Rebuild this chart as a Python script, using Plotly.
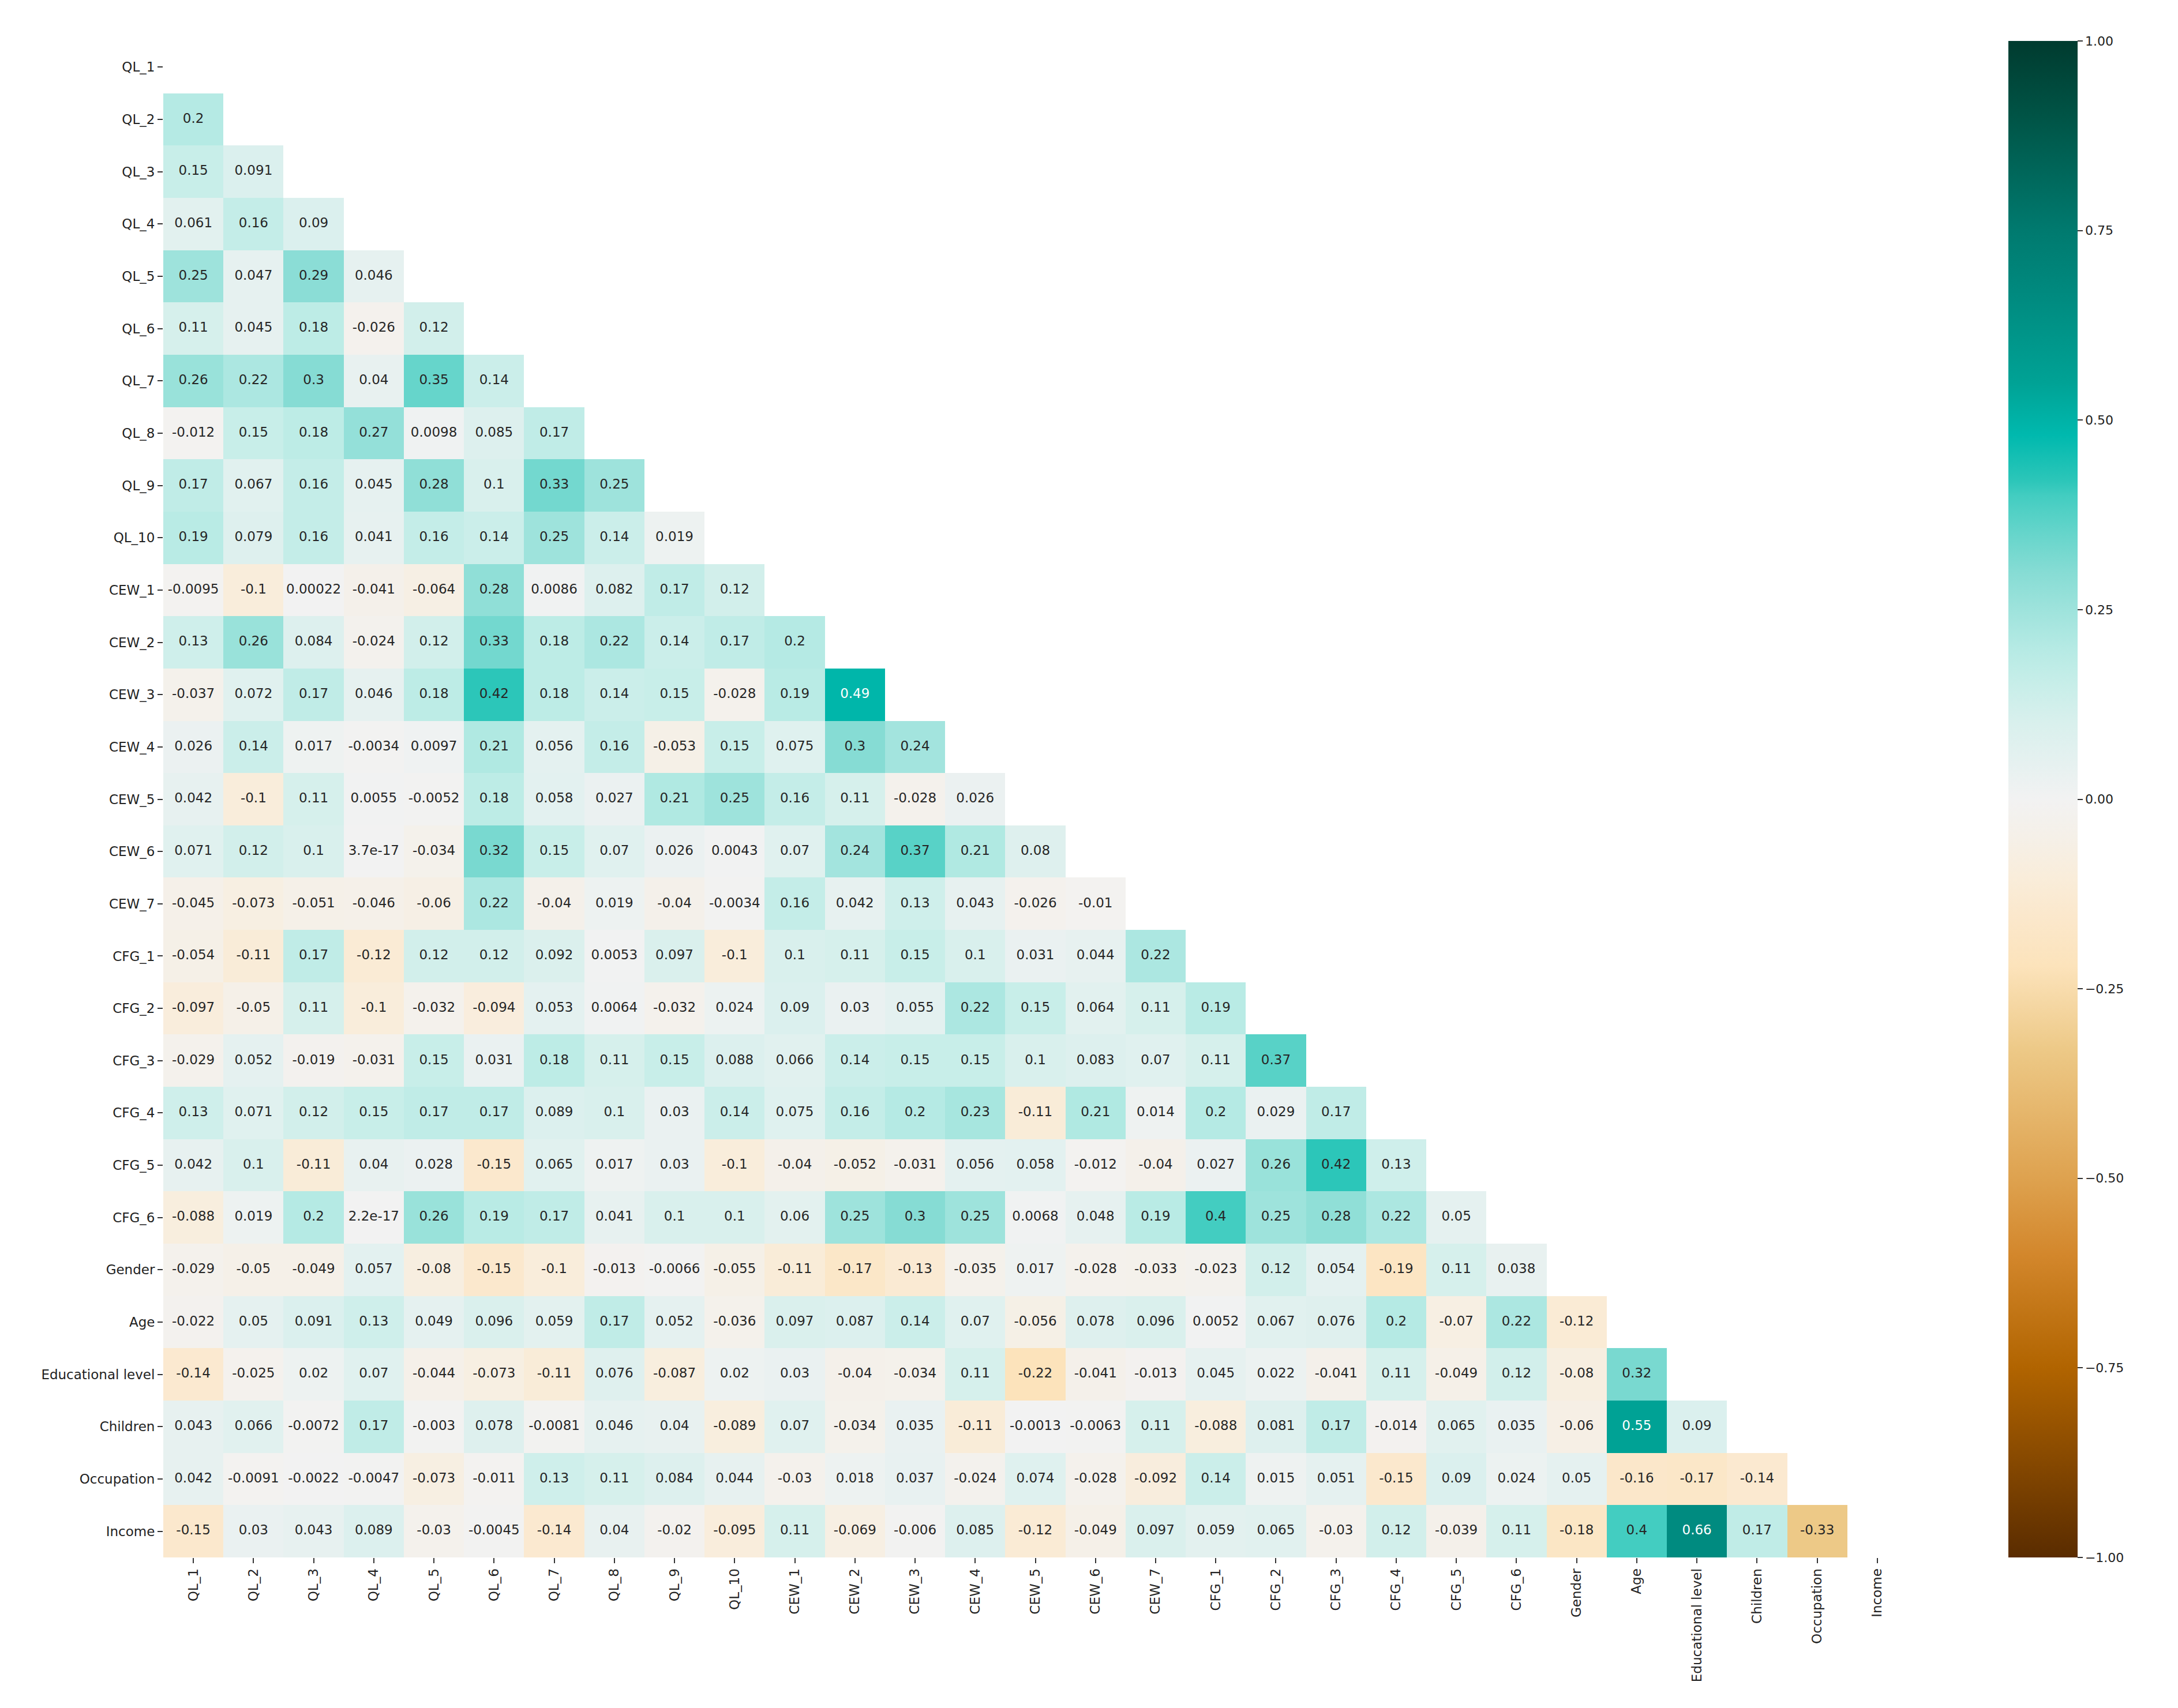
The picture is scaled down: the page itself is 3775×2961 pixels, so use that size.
import plotly.graph_objects as go

# variable names (rows top->bottom, columns left->right)
labels = ["QL_1", "QL_2", "QL_3", "QL_4", "QL_5", "QL_6", "QL_7", "QL_8", "QL_9", "QL_10",
          "CEW_1", "CEW_2", "CEW_3", "CEW_4", "CEW_5", "CEW_6", "CEW_7",
          "CFG_1", "CFG_2", "CFG_3", "CFG_4", "CFG_5", "CFG_6",
          "Gender", "Age", "Educational level", "Children", "Occupation", "Income"]

# lower triangle of the correlation matrix, one list per row (values left of the diagonal)
ql_1 = []
ql_2 = [0.2]
ql_3 = [0.15, 0.091]
ql_4 = [0.061, 0.16, 0.09]
ql_5 = [0.25, 0.047, 0.29, 0.046]
ql_6 = [0.11, 0.045, 0.18, -0.026, 0.12]
ql_7 = [0.26, 0.22, 0.3, 0.04, 0.35, 0.14]
ql_8 = [-0.012, 0.15, 0.18, 0.27, 0.0098, 0.085, 0.17]
ql_9 = [0.17, 0.067, 0.16, 0.045, 0.28, 0.1, 0.33, 0.25]
ql_10 = [0.19, 0.079, 0.16, 0.041, 0.16, 0.14, 0.25, 0.14, 0.019]
cew_1 = [-0.0095, -0.1, 0.00022, -0.041, -0.064, 0.28, 0.0086, 0.082, 0.17, 0.12]
cew_2 = [0.13, 0.26, 0.084, -0.024, 0.12, 0.33, 0.18, 0.22, 0.14, 0.17, 0.2]
cew_3 = [-0.037, 0.072, 0.17, 0.046, 0.18, 0.42, 0.18, 0.14, 0.15, -0.028, 0.19, 0.49]
cew_4 = [0.026, 0.14, 0.017, -0.0034, 0.0097, 0.21, 0.056, 0.16, -0.053, 0.15, 0.075, 0.3, 0.24]
cew_5 = [0.042, -0.1, 0.11, 0.0055, -0.0052, 0.18, 0.058, 0.027, 0.21, 0.25, 0.16, 0.11, -0.028, 0.026]
cew_6 = [0.071, 0.12, 0.1, 3.7e-17, -0.034, 0.32, 0.15, 0.07, 0.026, 0.0043, 0.07, 0.24, 0.37, 0.21, 0.08]
cew_7 = [-0.045, -0.073, -0.051, -0.046, -0.06, 0.22, -0.04, 0.019, -0.04, -0.0034, 0.16, 0.042, 0.13,
         0.043, -0.026, -0.01]
cfg_1 = [-0.054, -0.11, 0.17, -0.12, 0.12, 0.12, 0.092, 0.0053, 0.097, -0.1, 0.1, 0.11, 0.15, 0.1,
         0.031, 0.044, 0.22]
cfg_2 = [-0.097, -0.05, 0.11, -0.1, -0.032, -0.094, 0.053, 0.0064, -0.032, 0.024, 0.09, 0.03, 0.055,
         0.22, 0.15, 0.064, 0.11, 0.19]
cfg_3 = [-0.029, 0.052, -0.019, -0.031, 0.15, 0.031, 0.18, 0.11, 0.15, 0.088, 0.066, 0.14, 0.15, 0.15,
         0.1, 0.083, 0.07, 0.11, 0.37]
cfg_4 = [0.13, 0.071, 0.12, 0.15, 0.17, 0.17, 0.089, 0.1, 0.03, 0.14, 0.075, 0.16, 0.2, 0.23, -0.11,
         0.21, 0.014, 0.2, 0.029, 0.17]
cfg_5 = [0.042, 0.1, -0.11, 0.04, 0.028, -0.15, 0.065, 0.017, 0.03, -0.1, -0.04, -0.052, -0.031, 0.056,
         0.058, -0.012, -0.04, 0.027, 0.26, 0.42, 0.13]
cfg_6 = [-0.088, 0.019, 0.2, 2.2e-17, 0.26, 0.19, 0.17, 0.041, 0.1, 0.1, 0.06, 0.25, 0.3, 0.25, 0.0068,
         0.048, 0.19, 0.4, 0.25, 0.28, 0.22, 0.05]
gender = [-0.029, -0.05, -0.049, 0.057, -0.08, -0.15, -0.1, -0.013, -0.0066, -0.055, -0.11, -0.17, -0.13,
          -0.035, 0.017, -0.028, -0.033, -0.023, 0.12, 0.054, -0.19, 0.11, 0.038]
age = [-0.022, 0.05, 0.091, 0.13, 0.049, 0.096, 0.059, 0.17, 0.052, -0.036, 0.097, 0.087, 0.14, 0.07,
       -0.056, 0.078, 0.096, 0.0052, 0.067, 0.076, 0.2, -0.07, 0.22, -0.12]
educational_level = [-0.14, -0.025, 0.02, 0.07, -0.044, -0.073, -0.11, 0.076, -0.087, 0.02, 0.03, -0.04,
                     -0.034, 0.11, -0.22, -0.041, -0.013, 0.045, 0.022, -0.041, 0.11, -0.049, 0.12,
                     -0.08, 0.32]
children = [0.043, 0.066, -0.0072, 0.17, -0.003, 0.078, -0.0081, 0.046, 0.04, -0.089, 0.07, -0.034,
            0.035, -0.11, -0.0013, -0.0063, 0.11, -0.088, 0.081, 0.17, -0.014, 0.065, 0.035, -0.06,
            0.55, 0.09]
occupation = [0.042, -0.0091, -0.0022, -0.0047, -0.073, -0.011, 0.13, 0.11, 0.084, 0.044, -0.03, 0.018,
              0.037, -0.024, 0.074, -0.028, -0.092, 0.14, 0.015, 0.051, -0.15, 0.09, 0.024, 0.05,
              -0.16, -0.17, -0.14]
income = [-0.15, 0.03, 0.043, 0.089, -0.03, -0.0045, -0.14, 0.04, -0.02, -0.095, 0.11, -0.069, -0.006,
          0.085, -0.12, -0.049, 0.097, 0.059, 0.065, -0.03, 0.12, -0.039, 0.11, -0.18, 0.4, 0.66,
          0.17, -0.33]

rows = [ql_1, ql_2, ql_3, ql_4, ql_5, ql_6, ql_7, ql_8, ql_9, ql_10,
        cew_1, cew_2, cew_3, cew_4, cew_5, cew_6, cew_7,
        cfg_1, cfg_2, cfg_3, cfg_4, cfg_5, cfg_6,
        gender, age, educational_level, children, occupation, income]

cbar_ticks = [-1.0, -0.75, -0.5, -0.25, 0.0, 0.25, 0.5, 0.75, 1.0]

# masked matrix: upper triangle + diagonal left empty
n = len(labels)
z = [r + [None] * (n - len(r)) for r in rows]

# brown -> white -> teal diverging scale
colorscale = [
    [0.000, "#5a2c00"],
    [0.125, "#b16400"],
    [0.200, "#d3872c"],
    [0.250, "#dea24f"],
    [0.335, "#edc987"],
    [0.390, "#fce3bb"],
    [0.425, "#fbe8cd"],
    [0.450, "#f9eddb"],
    [0.475, "#f5f0e8"],
    [0.500, "#f2f2f2"],
    [0.525, "#e5f1f0"],
    [0.550, "#d9f0ed"],
    [0.575, "#c8eee9"],
    [0.600, "#b5eae4"],
    [0.625, "#9ee3dc"],
    [0.650, "#86dcd4"],
    [0.675, "#66d5cb"],
    [0.700, "#43cdc1"],
    [0.710, "#2cc6b9"],
    [0.740, "#00b9ae"],
    [0.775, "#00a295"],
    [0.830, "#008b80"],
    [0.875, "#007a6f"],
    [0.950, "#005446"],
    [1.000, "#003b2f"],
]

font_family = "DejaVu Sans"

fig = go.Figure()
fig.add_trace(go.Heatmap(
    z=z, x=labels, y=labels,
    zmin=-1, zmax=1,
    colorscale=colorscale,
    hoverongaps=False,
    colorbar=dict(
        thickness=120, len=1.0, lenmode="fraction",
        x=1.058, xanchor="left", y=0.5, yanchor="middle",
        xpad=0, ypad=0,
        outlinewidth=0,
        tickvals=cbar_ticks,
        ticktext=[("%.2f" % t).replace("-", "\u2212") for t in cbar_ticks],
        ticks="outside", ticklen=9, tickwidth=2, tickcolor="#333",
        tickfont=dict(family=font_family, size=22, color="#222"),
    ),
))

# cell labels
tx, ty, tt, tc = [], [], [], []
for i, r in enumerate(rows):
    for j, v in enumerate(r):
        tx.append(labels[j])
        ty.append(labels[i])
        tt.append("{:.2g}".format(v))
        tc.append("white" if v >= 0.45 else "#262626")

fig.add_trace(go.Scatter(
    x=tx, y=ty, text=tt, mode="text",
    textfont=dict(family=font_family, size=23, color=tc),
    hoverinfo="skip", showlegend=False,
))

fig.update_layout(
    width=3775, height=2961,
    margin=dict(l=275, r=477, t=63, b=269),
    plot_bgcolor="white", paper_bgcolor="white",
    showlegend=False,
)
fig.update_xaxes(
    range=[-0.5, n - 0.5], automargin=False,
    showgrid=False, zeroline=False, showline=False,
    tickangle=-90, ticks="outside", ticklen=9, tickwidth=2, tickcolor="#333",
    tickfont=dict(family=font_family, size=23, color="#222"),
)
fig.update_yaxes(
    range=[n - 0.5, -0.5], automargin=False,
    showgrid=False, zeroline=False, showline=False,
    ticks="outside", ticklen=9, tickwidth=2, tickcolor="#333",
    tickfont=dict(family=font_family, size=23, color="#222"),
)

fig.write_html("out.html")
